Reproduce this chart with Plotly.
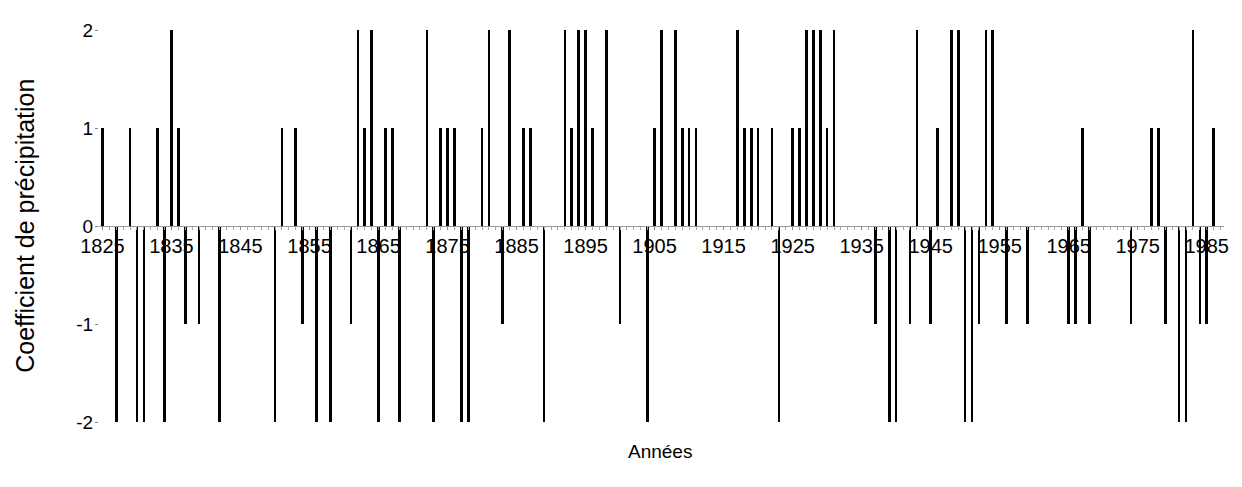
import plotly.graph_objects as go

# Années avec un coefficient non nul (les autres années valent 0)
annees = [1825, 1827, 1829, 1830, 1831, 1833, 1834, 1835, 1836, 1837, 1839, 1842,
          1850, 1851, 1853, 1854, 1856, 1858, 1861, 1862, 1863, 1864, 1865, 1866,
          1867, 1868, 1872, 1873, 1874, 1875, 1876, 1877, 1878, 1880, 1881, 1883,
          1884, 1886, 1887, 1889, 1892, 1893, 1894, 1895, 1896, 1898, 1900, 1904,
          1905, 1906, 1908, 1909, 1910, 1911, 1917, 1918, 1919, 1920, 1922, 1923,
          1925, 1926, 1927, 1928, 1929, 1930, 1931, 1937, 1939, 1940, 1942, 1943,
          1945, 1946, 1948, 1949, 1950, 1951, 1952, 1953, 1954, 1956, 1959, 1965,
          1966, 1967, 1968, 1974, 1977, 1978, 1979, 1981, 1982, 1983, 1984, 1985,
          1986]
coefficients = [1, -2, 1, -2, -2, 1, -2, 2, 1, -1, -1, -2,
                -2, 1, 1, -1, -2, -2, -1, 2, 1, 2, -2, 1,
                1, -2, 2, -2, 1, 1, 1, -2, -2, 1, 2, -1,
                2, 1, 1, -2, 2, 1, 2, 2, 1, 2, -1, -2,
                1, 2, 2, 1, 1, 1, 2, 1, 1, 1, 1, -2,
                1, 1, 2, 2, 2, 1, 2, -1, -2, -2, -1, 2,
                -1, 1, 2, 2, -2, -2, -1, 2, 2, -1, -1, -1,
                -1, 1, -1, -1, 1, 1, -1, -2, -2, 2, -1, -1,
                1]

premiere_annee, derniere_annee = 1825, 1987
etiquettes_x = list(range(1825, 1986, 10))
valeurs_y = [-2, -1, 0, 1, 2]
etiquettes_y = ["-2", "-1", "0", "1", "2"]

police = "Liberation Sans, Arial, sans-serif"

fig = go.Figure()
fig.add_trace(go.Bar(
    x=annees, y=coefficients, width=0.38,
    marker=dict(color="black", line=dict(width=0)),
    showlegend=False, hoverinfo="x+y",
))

fig.update_layout(
    width=1234, height=479,
    margin=dict(l=91, r=18, t=18, b=65),
    plot_bgcolor="white", paper_bgcolor="white",
    font=dict(family=police, size=20, color="black"),
    bargap=0,
    xaxis=dict(
        range=[premiere_annee - 0.5, derniere_annee + 0.5],
        anchor="free", position=0.5,
        tickmode="array", tickvals=etiquettes_x,
        ticks="outside", ticklen=3, tickcolor="#888", tickwidth=1,
        minor=dict(dtick=1, ticks="outside", ticklen=3, tickcolor="#aaa", tickwidth=1),
        showline=True, linecolor="#999", linewidth=1,
        showgrid=False, zeroline=False,
        ticklabelstandoff=-1,
        tickfont=dict(family=police, size=20, color="black"),
    ),
    yaxis=dict(
        range=[-2, 2],
        tickmode="array", tickvals=valeurs_y, ticktext=etiquettes_y,
        ticks="outside", ticklen=3, tickcolor="#888",
        showline=False, showgrid=False, zeroline=False,
        ticklabelstandoff=-2,
        tickfont=dict(family=police, size=19, color="black"),
    ),
    annotations=[
        dict(text="Années", xref="paper", yref="paper", x=0.499, y=-0.076,
             showarrow=False, font=dict(family=police, size=19, color="black"),
             xanchor="center", yanchor="middle"),
        dict(text="Coefficient de précipitation", xref="paper", yref="paper",
             x=-0.066, y=0.5, textangle=-90, showarrow=False,
             font=dict(family=police, size=25, color="black"),
             xanchor="center", yanchor="middle"),
    ],
)

fig.write_html("out.html")
